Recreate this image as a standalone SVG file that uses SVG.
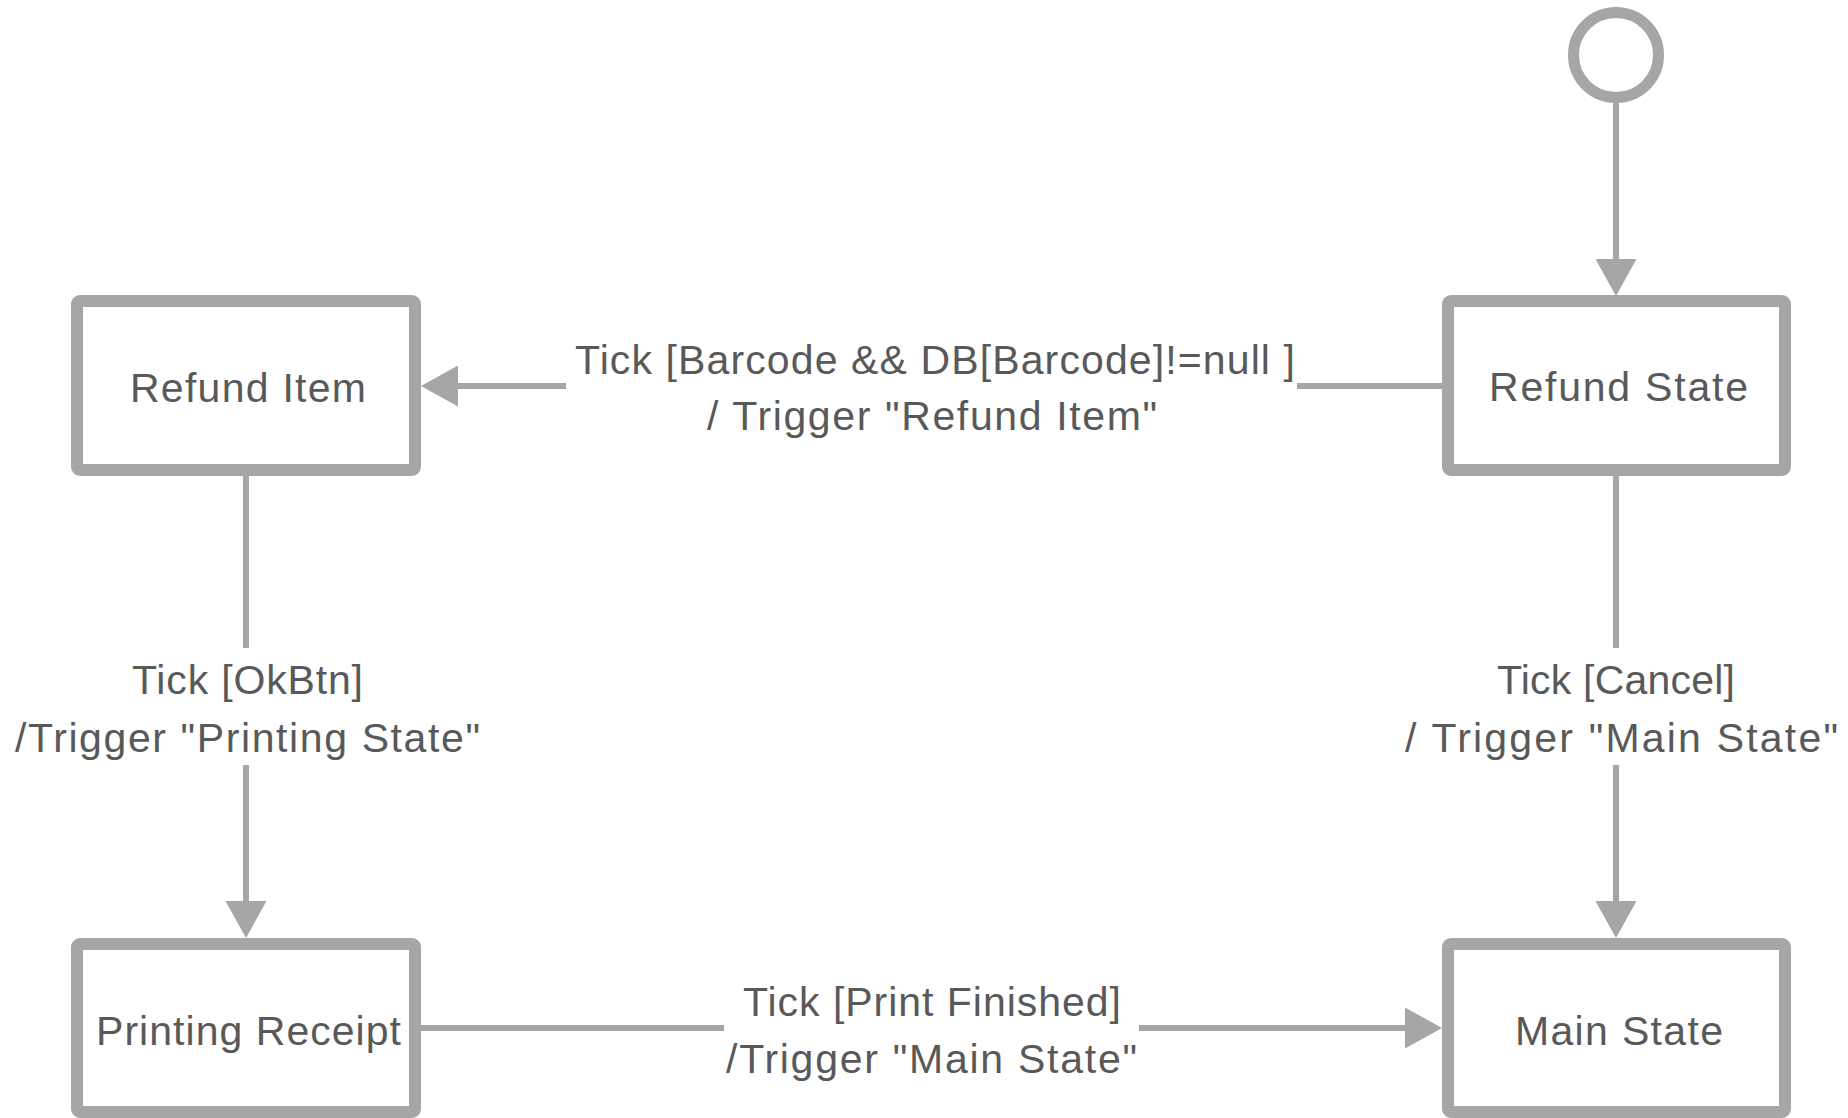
<svg xmlns="http://www.w3.org/2000/svg" width="1848" height="1118" viewBox="0 0 1848 1118">
<style>
.box{fill:#FFFFFF;stroke:#A6A6A6;stroke-width:12}
.edge{fill:none;stroke:#A6A6A6;stroke-width:6}
.t{font-family:"Liberation Sans",Arial,sans-serif;font-size:41px;fill:#595959;text-anchor:middle}
</style>
<defs>
<marker id="arr" viewBox="0 0 37 41" refX="0" refY="20.5" markerWidth="37" markerHeight="41" markerUnits="userSpaceOnUse" orient="auto">
<path d="M0,0 L37,20.5 L0,41 Z" fill="#A6A6A6"/>
</marker>
</defs>
<rect width="1848" height="1118" fill="#FFFFFF"/>
<g id="connectors">
<path class="edge" d="M1616,97 V259" marker-end="url(#arr)"/>
<path class="edge" d="M1442,386 H1297"/>
<path class="edge" d="M566,386 H458" marker-end="url(#arr)"/>
<path class="edge" d="M246,476 V648"/>
<path class="edge" d="M246,765 V901" marker-end="url(#arr)"/>
<path class="edge" d="M1616,476 V648"/>
<path class="edge" d="M1616,765 V901" marker-end="url(#arr)"/>
<path class="edge" d="M421,1028 H724"/>
<path class="edge" d="M1139,1028 H1405" marker-end="url(#arr)"/>
<g id="label-refund">
<text class="t" x="935" y="374" textLength="720" lengthAdjust="spacing">Tick [Barcode &amp;&amp; DB[Barcode]!=null ]</text>
<text class="t" x="932" y="430" textLength="450" lengthAdjust="spacing">/ Trigger "Refund Item"</text>
</g>
<g id="label-ok">
<text class="t" x="247.5" y="694" textLength="231" lengthAdjust="spacing">Tick [OkBtn]</text>
<text class="t" x="247.5" y="752" textLength="465" lengthAdjust="spacing">/Trigger "Printing State"</text>
</g>
<g id="label-cancel">
<text class="t" x="1616" y="694" textLength="238" lengthAdjust="spacing">Tick [Cancel]</text>
<text class="t" x="1621.5" y="752" textLength="433" lengthAdjust="spacing">/ Trigger "Main State"</text>
</g>
<g id="label-print">
<text class="t" x="932" y="1016" textLength="378" lengthAdjust="spacing">Tick [Print Finished]</text>
<text class="t" x="931.5" y="1073" textLength="411" lengthAdjust="spacing">/Trigger "Main State"</text>
</g>
</g>
<g id="initial">
<circle cx="1616" cy="55" r="42.5" fill="#FFFFFF" stroke="#A6A6A6" stroke-width="11"/>
</g>
<g id="refund-item">
<rect class="box" x="77" y="301" width="338" height="169" rx="3"/>
<text class="t" x="248" y="402" textLength="236" lengthAdjust="spacing">Refund Item</text>
</g>
<g id="refund-state">
<rect class="box" x="1448" y="301" width="337" height="169" rx="3"/>
<text class="t" x="1618.5" y="401" textLength="259" lengthAdjust="spacing">Refund  State</text>
</g>
<g id="printing-receipt">
<rect class="box" x="77" y="944" width="338" height="168" rx="3"/>
<text class="t" x="248.5" y="1045" textLength="305" lengthAdjust="spacing">Printing Receipt</text>
</g>
<g id="main-state">
<rect class="box" x="1448" y="944" width="337" height="168" rx="3"/>
<text class="t" x="1619" y="1045" textLength="208" lengthAdjust="spacing">Main State</text>
</g>
</svg>
